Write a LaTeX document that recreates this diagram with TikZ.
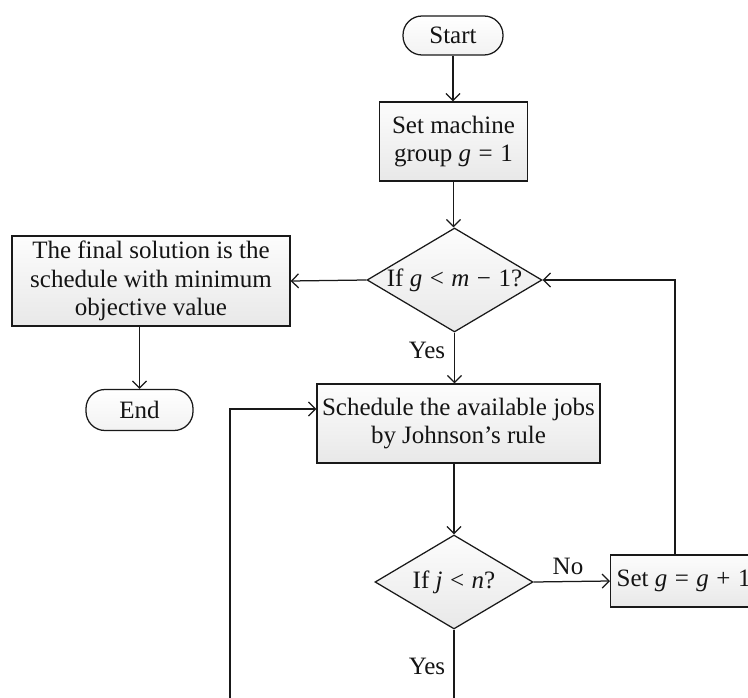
\documentclass[tikz,border=0pt]{standalone}
\usepackage{fontspec}
\setmainfont{Liberation Serif}
\usetikzlibrary{shapes.geometric,arrows.meta}
% spacing around relation and operator signs
\newcommand\spop[1]{\hspace{0.3em}#1\hspace{0.3em}}

\begin{document}
\begin{tikzpicture}[x=1pt,y=-1pt,
  line width=1.25pt, draw=black!90,
  every node/.style={font=\fontsize{25}{28.5}\selectfont, align=center, text=black!92},
  box/.style={draw=black!90, rectangle, top color=black!1, bottom color=black!9, inner sep=0pt},
  term/.style={draw=black!90, rectangle, rounded corners=19pt, top color=white, bottom color=black!5, inner sep=0pt},
  decision/.style={draw=black!90, diamond, inner sep=0pt, top color=black!1, bottom color=black!9},
  flow/.style={-{Straight Barb[length=7pt,width=14pt]}},
  lbl/.style={inner sep=0pt}
]
\useasboundingbox (0,0) rectangle (748,698);
\clip (0,0) rectangle (748,698);

% main column
\node[term, minimum width=100pt, minimum height=39pt] (start) at (453,35.5) {Start};
\node[box, minimum width=148pt, minimum height=79pt] (init) at (453.5,141.5)
  {Set machine\\group \textit{g}\spop{=}1};
\node[decision, minimum width=175pt, minimum height=104pt] (dg) at (454.5,280)
  {\makebox[0pt]{If \textit{g}\spop{<}\textit{m}\spop{−}1?}};
\node[box, minimum width=283pt, minimum height=79pt] (sched) at (458.5,423.5)
  {Schedule the available jobs\\by Johnson’s rule};
\node[decision, minimum width=158pt, minimum height=94pt] (dj) at (454,582)
  {\makebox[0pt]{If \textit{j}\spop{<}\textit{n}?}};

% left branch
\node[box, minimum width=278pt, minimum height=90pt] (final) at (151,281)
  {The final solution is the\\schedule with minimum\\objective value};
\node[term, minimum width=107pt, minimum height=41pt] (end) at (139.5,410) {End};

% right branch
\node[box, inner xsep=6pt, minimum height=52pt, anchor=west] (incg) at (610,581)
  {Set \textit{g}\spop{=}\textit{g}\spop{+}1};

% labels
\node[lbl] (yes1) at (427,350) {Yes};
\node[lbl] (no) at (568,566) {No};
\node[lbl] (yes2) at (427,666) {Yes};

% helper points
\coordinate (up) at (675,280);
\coordinate (djout) at (454,715);
\coordinate (loopbot) at (230,715);

% connectors
\draw[flow] (start.south) -- (start.south |- init.north);
\draw[flow] (init.south) -- (init.south |- dg.north);
\draw[flow] (dg.west) -- (final.east);
\draw[flow] (final.south -| end.north) -- (end.north);
\draw[flow] (dg.south) -- (dg.south |- sched.north);
\draw[flow] (sched.south -| dj.north) -- (dj.north);
\draw[flow] (dj.east) -- (incg.west);
\draw[flow] (incg.north -| up) -- (up) -- (dg.east);
\draw (dj.south) -- (djout);
\draw[flow] (loopbot) |- ([yshift=14.5pt]sched.west);
\end{tikzpicture}
\end{document}
